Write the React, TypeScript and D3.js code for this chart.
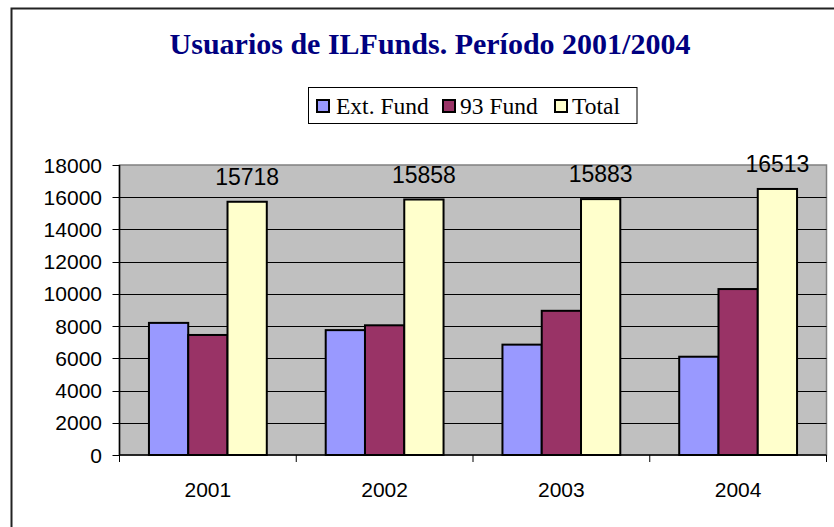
import React from "react";
import * as d3 from "d3";

const categories = ["2001", "2002", "2003", "2004"];
const seriesNames = ["Ext. Fund", "93 Fund", "Total"];
const extFund = [8200, 7750, 6850, 6100];
const fund93 = [7450, 8050, 8950, 10300];
const total = [15718, 15858, 15883, 16513];
const yTicks = [0, 2000, 4000, 6000, 8000, 10000, 12000, 14000, 16000, 18000];
const colors = ["#9999FF", "#993366", "#FFFFCC"];
const titleText = "Usuarios de ILFunds. Período 2001/2004";

const W = 834;
const H = 527;
const plot = { left: 119.5, right: 826.5, top: 165, bottom: 455 };

export default function App() {
  React.useEffect(() => {
    document.body.style.margin = "0";
  }, []);
  const series = [extFund, fund93, total];
  const x = d3
    .scaleBand<string>()
    .domain(categories)
    .range([plot.left, plot.right])
    .paddingInner(0)
    .paddingOuter(0);
  const bw = x.bandwidth();
  const barW = bw / 4.5;
  const y = d3.scaleLinear().domain([0, 18000]).range([plot.bottom, plot.top]);
  const sans = "Liberation Sans, Arial, sans-serif";
  const serif = "Liberation Serif, Times New Roman, serif";

  const legendItems = [
    { sx: 316, tx: 336 },
    { sx: 442, tx: 460 },
    { sx: 554, tx: 572 },
  ];

  return (
    <svg
      width={W}
      height={H}
      style={{ position: "absolute", left: 0, top: 0, background: "#fff" }}
    >
      <rect x={11.5} y={8.5} width={900} height={700} fill="#fff" stroke="#222" strokeWidth={2} />
      <text
        x={430}
        y={54}
        textAnchor="middle"
        fontFamily={serif}
        fontWeight="bold"
        fontSize={30}
        fill="#000080"
      >
        {titleText}
      </text>
      {/* legend */}
      <rect x={308.5} y={87.5} width={328.5} height={36} fill="#fff" stroke="#000" strokeWidth={1} />
      {seriesNames.map((n, i) => (
        <g key={n}>
          <rect
            x={legendItems[i].sx + 1}
            y={100}
            width={12}
            height={12}
            fill={colors[i]}
            stroke="#000"
            strokeWidth={2}
          />
          <text x={legendItems[i].tx} y={114} fontFamily={serif} fontSize={23.5} fill="#000">
            {n}
          </text>
        </g>
      ))}
      {/* plot area */}
      <rect
        x={plot.left}
        y={plot.top}
        width={plot.right - plot.left}
        height={plot.bottom - plot.top}
        fill="#C0C0C0"
        stroke="#808080"
        strokeWidth={1.5}
      />
      {yTicks
        .filter((t) => t > 0 && t < 18000)
        .map((t) => (
          <line
            key={"g" + t}
            x1={plot.left}
            x2={plot.right}
            y1={Math.round(y(t)) + 0.5}
            y2={Math.round(y(t)) + 0.5}
            stroke="#000"
            strokeWidth={1}
          />
        ))}
      {/* bars */}
      {categories.map((c, ci) =>
        series.map((s, si) => {
          const x0 = (x(c) as number) + barW * 0.75 + si * barW;
          return (
            <rect
              key={c + si}
              x={x0}
              y={y(s[ci])}
              width={barW}
              height={plot.bottom - y(s[ci])}
              fill={colors[si]}
              stroke="#000"
              strokeWidth={2}
            />
          );
        })
      )}
      {/* data labels */}
      {categories.map((c, ci) => (
        <text
          key={"l" + c}
          x={(x(c) as number) + barW * 0.75 + 2.5 * barW}
          y={y(total[ci]) - 17}
          textAnchor="middle"
          fontFamily={sans}
          fontSize={23}
          fill="#000"
        >
          {total[ci]}
        </text>
      ))}
      {/* axes */}
      <line x1={plot.left} x2={plot.left} y1={plot.top} y2={plot.bottom} stroke="#000" strokeWidth={1.5} />
      <line x1={plot.left} x2={plot.right} y1={plot.bottom} y2={plot.bottom} stroke="#000" strokeWidth={1.5} />
      {yTicks.map((t) => (
        <g key={"t" + t}>
          <line x1={plot.left - 7} x2={plot.left} y1={Math.round(y(t)) + 0.5} y2={Math.round(y(t)) + 0.5} stroke="#000" />
          <text
            x={102}
            y={y(t) + 7.5}
            textAnchor="end"
            fontFamily={sans}
            fontSize={21}
            fill="#000"
          >
            {t}
          </text>
        </g>
      ))}
      {categories.map((c) => (
        <line
          key={"xt" + c}
          x1={x(c) as number}
          x2={x(c) as number}
          y1={plot.bottom}
          y2={plot.bottom + 7}
          stroke="#000"
        />
      ))}
      <line x1={plot.right} x2={plot.right} y1={plot.bottom} y2={plot.bottom + 7} stroke="#000" />
      {categories.map((c) => (
        <text
          key={"xl" + c}
          x={(x(c) as number) + bw / 2}
          y={497}
          textAnchor="middle"
          fontFamily={sans}
          fontSize={21}
          fill="#000"
        >
          {c}
        </text>
      ))}
    </svg>
  );
}
